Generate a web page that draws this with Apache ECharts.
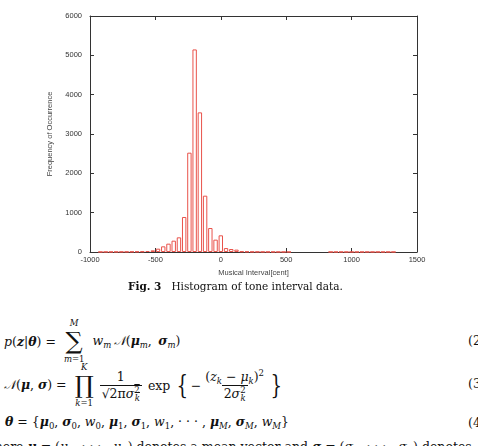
<!DOCTYPE html>
<html>
<head>
<meta charset="utf-8">
<script src="https://cdn.jsdelivr.net/npm/echarts@6/dist/echarts.min.js"></script>
<style>
  body { margin: 0; background: #fff; }
  #page { position: relative; width: 478px; height: 446px; overflow: hidden; font-family: "DejaVu Serif", serif; color: #111; }
  #chart { position: absolute; left: 0; top: 0; width: 478px; height: 300px; }
  .abs { position: absolute; white-space: nowrap; }
  .cap { font-size: 10.5px; }
  .eq { font-size: 12.5px; display: flex; align-items: center; }
  .v { font-style: italic; }
  .bv { font-style: italic; font-weight: bold; }
  sub { font-size: 8.5px; vertical-align: -3px; line-height: 0; }
  sup { font-size: 8.5px; vertical-align: 5px; line-height: 0; }
  .op { display: inline-flex; flex-direction: column; align-items: center; line-height: 1; margin: 0 4px; }
  .op .lim { font-size: 8.5px; line-height: 10px; }
  .op .big { font-size: 24px; line-height: 26px; }
  .frac { display: inline-flex; flex-direction: column; align-items: center; line-height: 1.25; margin: 0 2px; }
  .frac .num { padding: 0 2px; }
  .frac .den { border-top: 1px solid #111; padding: 0 2px; }
  .brace { font-size: 26px; line-height: 26px; font-weight: 200; transform: scaleX(0.7); }
  .num-r { position: absolute; left: 468px; font-size: 12.5px; }
</style>
</head>
<body>
<div id="page">
  <div id="chart"></div>

  <div class="abs cap" style="left:128px; top:280px;"><b>Fig. 3</b>&nbsp;&nbsp;&nbsp;Histogram of tone interval data.</div>

  <div class="abs eq" style="left:4px; top:318px;">
    <span><span class="v">p</span>(<span class="bv">z</span>|<span class="bv">θ</span>) =&nbsp;</span>
    <span class="op"><span class="lim v">M</span><span class="big">∑</span><span class="lim"><span class="v">m</span>=1</span></span>
    <span>&nbsp;<span class="v">w<sub>m</sub></span>&thinsp;<span class="v">𝒩</span>(<span class="bv">μ</span><sub class="v">m</sub>,&thinsp; <span class="bv">σ</span><sub class="v">m</sub>)</span>
  </div>
  <div class="num-r" style="top:333px;">(2</div>

  <div class="abs eq" style="left:4px; top:362px;">
    <span><span class="v">𝒩</span>(<span class="bv">μ</span>, <span class="bv">σ</span>) =&nbsp;</span>
    <span class="op"><span class="lim v">K</span><span class="big">∏</span><span class="lim"><span class="v">k</span>=1</span></span>
    <span class="frac"><span class="num">1</span><span class="den">√<span style="text-decoration: overline;">2π<span class="v">σ</span><sup>2</sup><sub class="v" style="margin-left:-5px;">k</sub></span></span></span>
    <span>&nbsp;exp&nbsp;</span><span class="brace">{</span><span>−</span>
    <span class="frac"><span class="num">(<span class="v">z<sub>k</sub></span> − <span class="v">μ<sub>k</sub></span>)<sup>2</sup></span><span class="den">2<span class="v">σ</span><sup>2</sup><sub class="v" style="margin-left:-5px;">k</sub></span></span>
    <span class="brace">}</span>
  </div>
  <div class="num-r" style="top:376px;">(3</div>

  <div class="abs eq" style="left:5px; top:414px;">
    <span><span class="bv">θ</span> = {<span class="bv">μ</span><sub>0</sub>, <span class="bv">σ</span><sub>0</sub>, <span class="v">w</span><sub>0</sub>, <span class="bv">μ</span><sub>1</sub>, <span class="bv">σ</span><sub>1</sub>, <span class="v">w</span><sub>1</sub>, · · · , <span class="bv">μ</span><sub class="v">M</sub>, <span class="bv">σ</span><sub class="v">M</sub>, <span class="v">w<sub>M</sub></span>}</span>
  </div>
  <div class="num-r" style="top:415px;">(4</div>

  <div class="abs" style="left:-16px; top:439px; font-size:12.5px;">where <span class="bv">μ</span> = (<span class="v">μ</span><sub>1</sub>, · · · , <span class="v">μ<sub>K</sub></span>) denotes a mean vector and <span class="bv">σ</span> = (<span class="v">σ</span><sub>1</sub>, · · · , <span class="v">σ<sub>K</sub></span>) denotes</div>
</div>

<script>
// bin centres (cent) and counts, 40-cent bins
const binCenters = [
  -920, -880, -840, -800, -760, -720, -680, -640, -600, -560,
  -520, -480, -440, -400, -360, -320, -280, -240, -200, -160,
  -120, -80, -40, 0, 40, 80, 120, 160, 200, 240,
  280, 320, 360, 400, 440, 480, 520,
  840, 880, 920, 960, 1000, 1040, 1080, 1120, 1160, 1200, 1240, 1280, 1320
];
const binCounts = [
  2, 3, 3, 4, 5, 6, 8, 10, 15, 25,
  42, 85, 144, 212, 288, 373, 890, 2525, 5150, 3550,
  1432, 610, 314, 424, 100, 76, 60, 15, 10, 6,
  5, 4, 3, 3, 2, 2, 1,
  1, 1, 2, 1, 2, 1, 1, 2, 1, 1, 1, 1, 1
];
const xTicks = { min: -1000, max: 1500, step: 500 };
const yTicks = { min: 0, max: 6000, step: 1000 };

function renderChart() {
  const chart = echarts.init(document.getElementById("chart"));
  const axisColor = "#333";
  const labelStyle = {
    fontFamily: "Liberation Sans",
    fontSize: 7.5,
    color: "#333",
    formatter: (v) => String(v),
  };

  const baseX = {
    type: "value",
    min: xTicks.min,
    max: xTicks.max,
    interval: xTicks.step,
    axisLine: { onZero: false, lineStyle: { color: axisColor, width: 1 } },
    axisTick: { inside: true, length: 4, lineStyle: { color: axisColor } },
    splitLine: { show: false },
  };
  const baseY = {
    type: "value",
    min: yTicks.min,
    max: yTicks.max,
    interval: yTicks.step,
    axisLine: { show: true, onZero: false, lineStyle: { color: axisColor, width: 1 } },
    axisTick: { show: true, inside: true, length: 4, lineStyle: { color: axisColor } },
    splitLine: { show: false },
  };

  const option = {
    animation: false,
    grid: { left: 90, right: 61, top: 16, bottom: 48 },
    xAxis: [
      Object.assign({}, baseX, {
        position: "bottom",
        axisLabel: Object.assign({ margin: 4 }, labelStyle),
        name: "Musical Interval[cent]",
        nameLocation: "middle",
        nameGap: 17,
        nameTextStyle: { fontFamily: "Liberation Sans", fontSize: 7.5, color: "#444" },
      }),
      Object.assign({}, baseX, { position: "top", axisLabel: { show: false } }),
    ],
    yAxis: [
      Object.assign({}, baseY, {
        position: "left",
        axisLabel: Object.assign({ margin: 8 }, labelStyle),
        name: "Frequency of Occurrence",
        nameLocation: "middle",
        nameGap: 35,
        nameTextStyle: { fontFamily: "Liberation Sans", fontSize: 7.5, color: "#444" },
      }),
      Object.assign({}, baseY, { position: "right", axisLabel: { show: false } }),
    ],
    series: [
      {
        type: "bar",
        xAxisIndex: 0,
        yAxisIndex: 0,
        barWidth: 4.4,
        data: binCenters.map((c, i) => [c, binCounts[i]]),
        itemStyle: { color: "#fff", borderColor: "#e9534b", borderWidth: 1 },
        silent: true,
      },
    ],
  };
  chart.setOption(option);
}

document.addEventListener("DOMContentLoaded", renderChart);
</script>
</body>
</html>
